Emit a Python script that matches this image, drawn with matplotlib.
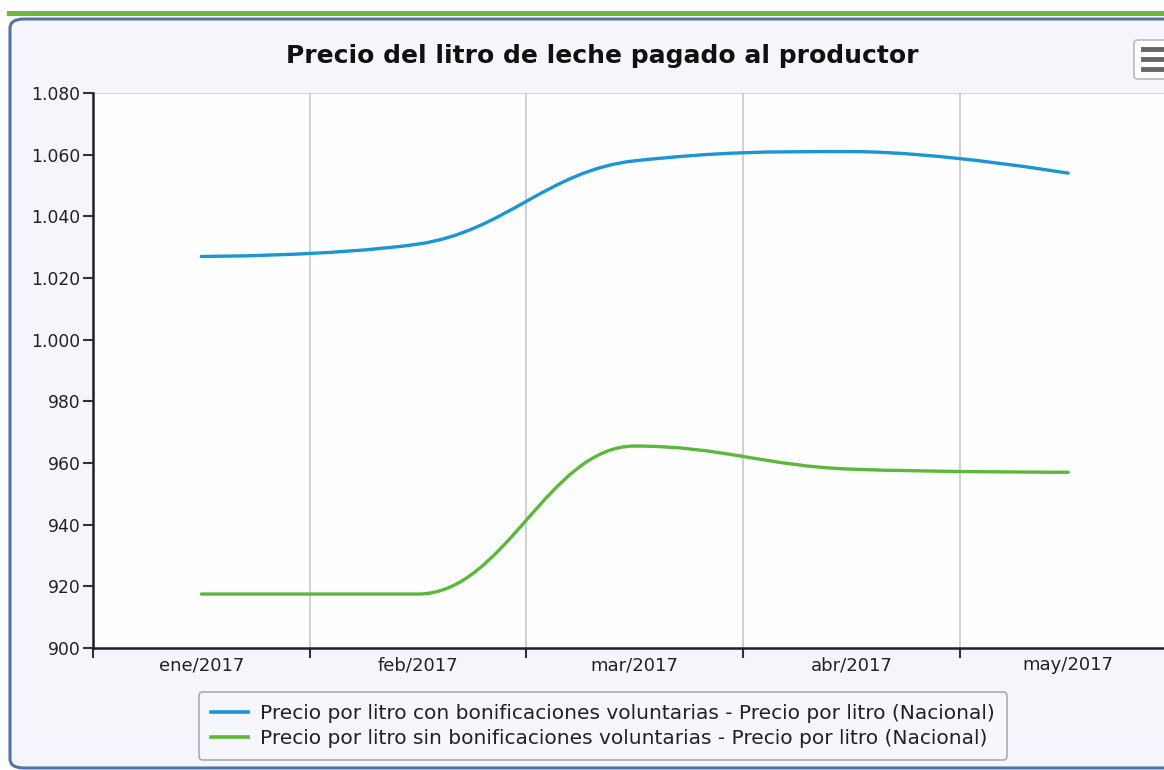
import matplotlib
matplotlib.use("Agg")
import matplotlib.pyplot as plt
from matplotlib.path import Path
from matplotlib.patches import PathPatch, FancyBboxPatch, Rectangle
from matplotlib.lines import Line2D
from matplotlib.ticker import FuncFormatter, MultipleLocator, FixedLocator

plt.rcParams['font.family'] = ['DejaVu Sans']

# data
meses = ['ene/2017', 'feb/2017', 'mar/2017', 'abr/2017', 'may/2017']
con_bonif = [1027, 1031, 1058, 1061, 1054]
sin_bonif = [917.5, 917.5, 965.5, 958, 957]
nombres = ['Precio por litro con bonificaciones voluntarias - Precio por litro (Nacional)',
           'Precio por litro sin bonificaciones voluntarias - Precio por litro (Nacional)']
colores = ['#1a96d4', '#5bb83b']


def spline_path(xs, ys, smoothing=1.5):
    # bezier spline in the style of a Highcharts "spline" series
    denom = smoothing + 1
    verts = [(xs[0], ys[0])]
    codes = [Path.MOVETO]
    conts = []
    n = len(xs)
    for i in range(n):
        if i == 0 or i == n - 1:
            conts.append(((xs[i], ys[i]), (xs[i], ys[i])))
            continue
        lx = (smoothing * xs[i] + xs[i - 1]) / denom
        ly = (smoothing * ys[i] + ys[i - 1]) / denom
        rx = (smoothing * xs[i] + xs[i + 1]) / denom
        ry = (smoothing * ys[i] + ys[i + 1]) / denom
        if rx != lx:
            corr = ((ry - ly) * (rx - xs[i])) / (rx - lx) + ys[i] - ry
            ly += corr
            ry += corr
        if ly > ys[i - 1] and ly > ys[i]:
            ly = max(ys[i - 1], ys[i]); ry = 2 * ys[i] - ly
        elif ly < ys[i - 1] and ly < ys[i]:
            ly = min(ys[i - 1], ys[i]); ry = 2 * ys[i] - ly
        if ry > ys[i + 1] and ry > ys[i]:
            ry = max(ys[i + 1], ys[i]); ly = 2 * ys[i] - ry
        elif ry < ys[i + 1] and ry < ys[i]:
            ry = min(ys[i + 1], ys[i]); ly = 2 * ys[i] - ry
        conts.append(((lx, ly), (rx, ry)))
    for i in range(1, n):
        verts += [conts[i - 1][1], conts[i][0], (xs[i], ys[i])]
        codes += [Path.CURVE4] * 3
    return Path(verts, codes)


W, H = 1164, 770
fig = plt.figure(figsize=(W / 100, H / 100), dpi=100)
fig.patch.set_facecolor('white')

# green bar and panel
fig.patches.append(Rectangle((7 / W, 1 - 16 / H), 1, 5 / H, transform=fig.transFigure,
                             facecolor='#6cb83a', edgecolor='none', zorder=0))
fig.patches.append(FancyBboxPatch((10 / W, 2 / H), 1.1, (H - 21) / H,
                                  boxstyle='round,pad=0,rounding_size=0.012',
                                  transform=fig.transFigure, facecolor='#f5f5fc',
                                  edgecolor='#4f75a8', linewidth=2.2, zorder=0))

ax = fig.add_axes([93 / W, 1 - 648 / H, (1176.5 - 93) / W, (648 - 93) / H])
ax.set_zorder(2)
ax.set_facecolor('#fefefe')
x = list(range(len(meses)))
for vals, col in zip([con_bonif, sin_bonif], colores):
    ax.add_patch(PathPatch(spline_path(x, vals), facecolor='none', edgecolor=col,
                           linewidth=2.4, capstyle='round', joinstyle='round', zorder=3))

ax.set_xlim(-0.5, 4.5)
ax.set_ylim(900, 1080)
ax.yaxis.set_major_locator(MultipleLocator(20))
ax.yaxis.set_major_formatter(FuncFormatter(lambda v, p: f'{int(v):,}'.replace(',', '.')))
ax.set_xticks(x)
ax.set_xticklabels(meses)
ax.xaxis.set_minor_locator(FixedLocator([-0.5, 0.5, 1.5, 2.5, 3.5]))
ax.tick_params(axis='x', which='major', length=0, pad=6, labelsize=13, colors='#222222')
ax.tick_params(axis='x', which='minor', length=7, width=1.5, color='#333333')
ax.tick_params(axis='y', length=7, width=1.5, color='#333333', labelsize=12.3,
               labelcolor='#222222', pad=2)
ax.grid(True, axis='x', which='minor', color='#c8c8c8', linewidth=1.2)
for s in ['top', 'right']:
    ax.spines[s].set_visible(False)
ax.spines['left'].set_linewidth(1.8)
ax.spines['bottom'].set_linewidth(1.8)
ax.spines['left'].set_color('#222222')
ax.spines['bottom'].set_color('#222222')
ax.axhline(1080, color='#cccccc', linewidth=1.2)

fig.text(602 / W, 1 - 56 / H, 'Precio del litro de leche pagado al productor',
         ha='center', va='center', fontsize=18, fontweight='bold', color='#111111')

# menu button
fig.patches.append(FancyBboxPatch((1134 / W, 1 - 79 / H), 0.05, 39 / H,
                                  boxstyle='round,pad=0,rounding_size=0.004',
                                  transform=fig.transFigure, facecolor='white',
                                  edgecolor='#bbbbbb', linewidth=1.2, zorder=1))
for yy in [49, 59, 69]:
    fig.lines.append(Line2D([1143 / W, 1.0], [1 - yy / H] * 2, transform=fig.transFigure,
                            color='#666666', linewidth=3.5, zorder=2))

leg = fig.legend([Line2D([], [], color=c, linewidth=2.6) for c in colores], nombres,
                 loc='center', bbox_to_anchor=(603 / W, 1 - 726 / H), ncol=1,
                 fontsize=14.5, frameon=True, fancybox=True, handlelength=1.8,
                 handletextpad=0.6, labelspacing=0.3, borderpad=0.6)
leg.get_frame().set_edgecolor('#999999')
leg.get_frame().set_facecolor('#f7f7fc')
leg.get_frame().set_linewidth(1.2)
leg.set_zorder(3)
for t in leg.get_texts():
    t.set_color('#222222')

fig.savefig('out.png', dpi=100)
